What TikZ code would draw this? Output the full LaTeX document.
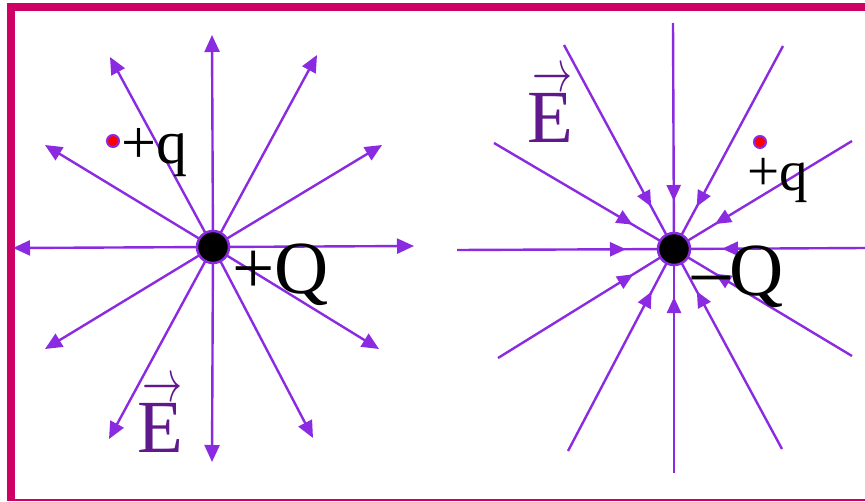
\RequirePackage{fix-cm}
\documentclass[tikz,border=0pt]{standalone}
\usepackage{graphicx}
\usepackage{fontspec}
\setmainfont{Liberation Serif}
\usetikzlibrary{arrows.meta,decorations.markings}
\definecolor{lineviolet}{RGB}{138,43,226}
\definecolor{framecol}{RGB}{205,0,100}
\definecolor{evec}{RGB}{95,25,140}
\newcommand{\myvecE}{\vbox{\offinterlineskip
  \hbox to 45pt{\hss\resizebox{40pt}{\height}{\fontsize{60}{60}\selectfont$\rightarrow$}}
  \kern 1pt
  \hbox{\fontsize{75}{80}\selectfont E}}}
\tikzset{
  fieldline/.style={draw=lineviolet, line width=2.4pt},
  outline/.style={fieldline, -{Triangle[length=17pt,width=15pt]}},
  inline/.style={fieldline, postaction={decorate},
    decoration={markings, mark=at position -48pt with {\arrow[lineviolet]{Triangle[length=16pt,width=14pt]}}}},
  charge/.style={circle, fill=black, draw=lineviolet, line width=2.5pt, minimum size=32pt, inner sep=0pt},
  testcharge/.style={circle, fill=red, draw=lineviolet, line width=2pt, minimum size=12pt, inner sep=0pt},
  lbl/.style={anchor=base west, inner sep=0pt, text=black},
  bigtext/.style={font=\fontsize{75}{80}\selectfont},
}
\begin{document}
\begin{tikzpicture}[x=1pt,y=-1pt]
\useasboundingbox (0,0) rectangle (865,501);
% frame
\fill[framecol] (7,3) rectangle (865,11);
\fill[framecol] (7,3) rectangle (15,501);
\fill[framecol] (7,499) rectangle (865,501);

% ---- positive charge ----
\coordinate (cL) at (213,247);
\coordinate (L1) at (212,35);
\coordinate (L2) at (317,55);
\coordinate (L3) at (382,145);
\coordinate (L4) at (414,246);
\coordinate (L5) at (379,349);
\coordinate (L6) at (313,438);
\coordinate (L7) at (212,462);
\coordinate (L8) at (109,439);
\coordinate (L9) at (45,349);
\coordinate (L10) at (13,248);
\coordinate (L11) at (45,145);
\coordinate (L12) at (110,57);
\foreach \i in {1,...,12} {\draw[outline] (cL) -- (L\i);}
\node[charge] (QposL) at (cL) {};

% ---- negative charge ----
\coordinate (cR) at (674,249);
\coordinate (R1) at (673,23);
\coordinate (R2) at (783,46);
\coordinate (R3) at (852,141);
\coordinate (R4) at (865,248);
\coordinate (R5) at (852,356);
\coordinate (R6) at (782,449);
\coordinate (R7) at (674,473);
\coordinate (R8) at (568,451);
\coordinate (R9) at (498,358);
\coordinate (R10) at (457,250);
\coordinate (R11) at (494,143);
\coordinate (R12) at (564,45);
\foreach \i in {1,...,12} {\draw[inline] (R\i) -- (cR);}
\node[charge] (QnegR) at (cR) {};

% test charges
\node[testcharge] (tL) at (113,141) {};
\node[testcharge] (tR) at (760,142) {};

% labels
\node[lbl, bigtext] (labQL) at (232,293) {+Q};
\node[lbl, bigtext] (labQR) at (692,295) {–Q};
\node[lbl, font=\fontsize{62}{66}\selectfont] (labqL) at (121,163) {+q};
\node[lbl, font=\fontsize{57}{60}\selectfont] (labqR) at (747,190) {+q};
\node[lbl, text=evec] (labEL) at (137,452) {\myvecE};
\node[lbl, text=evec] (labER) at (527,142) {\myvecE};
\end{tikzpicture}
\end{document}
